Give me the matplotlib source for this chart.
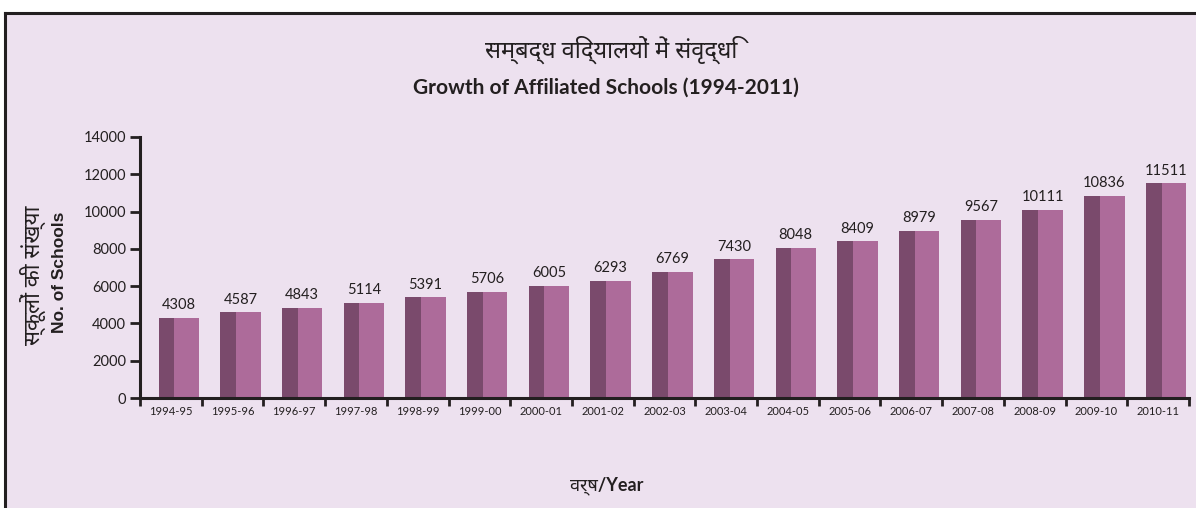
import matplotlib
matplotlib.use("Agg")
import numpy as np
import matplotlib.pyplot as plt
from matplotlib.patches import Rectangle
from matplotlib.lines import Line2D

# data
years = ["1994-95", "1995-96", "1996-97", "1997-98", "1998-99", "1999-00",
         "2000-01", "2001-02", "2002-03", "2003-04", "2004-05", "2005-06",
         "2006-07", "2007-08", "2008-09", "2009-10", "2010-11"]
schools = [4308, 4587, 4843, 5114, 5391, 5706, 6005, 6293, 6769, 7430,
           8048, 8409, 8979, 9567, 10111, 10836, 11511]
y_ticks = [0, 2000, 4000, 6000, 8000, 10000, 12000, 14000]

title_hi = "सम्बद्ध विद्यालयों में संवृद्धि"
title_en = "Growth of Affiliated Schools (1994-2011)"
ylabel_hi = "स्कूलों की संख्या"
ylabel_en = "No. of Schools"
xlabel = "वर्ष/Year"

bg = "#ede1ef"
dark = "#7a4a6c"
light = "#ad6b9a"
ink = "#231f20"
hindi = ["Noto Sans Devanagari", "Mukta", "DejaVu Sans"]
latin = ["Lato", "Noto Sans Devanagari", "DejaVu Sans"]

fig = plt.figure(figsize=(11.96, 5.08), dpi=100)
fig.patch.set_facecolor("white")

# lavender panel with dark frame on top and left
W, H = 1196, 508
fig.add_artist(Rectangle((5 / W, 0), 1, 1 - 13 / H, transform=fig.transFigure,
                         facecolor=bg, edgecolor="none", zorder=-10))
fig.add_artist(Line2D([5 / W, 1], [1 - 13 / H, 1 - 13 / H], transform=fig.transFigure,
                      color=ink, lw=2.2))
fig.add_artist(Line2D([5 / W, 5 / W], [0, 1 - 13 / H], transform=fig.transFigure,
                      color=ink, lw=2.2))

ax = fig.add_axes([140 / W, 1 - 398 / H, 1049 / W, 261 / H])
ax.set_facecolor("none")

x = np.arange(len(years))
ax.bar(x - 0.2, schools, width=0.255, align="edge", color=dark, zorder=2)
ax.bar(x + 0.055, schools, width=0.40, align="edge", color=light, zorder=2)

for xi, v in zip(x, schools):
    ax.annotate(str(v), (xi + 0.127, v), xytext=(0, 4), textcoords="offset points",
                ha="center", va="bottom", fontsize=10.5, color=ink, family=latin)

ax.set_xlim(-0.5, len(years) - 0.5)
ax.set_ylim(0, 14000)
ax.set_yticks(y_ticks)
ax.set_yticklabels([str(t) for t in y_ticks], family=latin, fontsize=10.5, color=ink)
ax.set_xticks(x)
ax.set_xticklabels(years, family=latin, fontsize=8, color=ink)
ax.set_xticks(np.arange(len(years) + 1) - 0.5, minor=True)
ax.tick_params(axis="x", which="major", length=0, pad=6)
ax.tick_params(axis="x", which="minor", length=6, width=2, color=ink, direction="out")
ax.tick_params(axis="y", length=7, width=2, color=ink, pad=3)

for s in ["top", "right"]:
    ax.spines[s].set_visible(False)
for s in ["left", "bottom"]:
    ax.spines[s].set_linewidth(2.2)
    ax.spines[s].set_color(ink)

fig.text(611 / W, 1 - 50 / H, title_hi, ha="center", va="center", fontsize=17,
         family=hindi, color=ink)
fig.text(606 / W, 1 - 88 / H, title_en, ha="center", va="center", fontsize=15,
         weight="bold", family=latin, color=ink)
fig.text(33 / W, 1 - 275 / H, ylabel_hi, ha="center", va="center", rotation=90,
         fontsize=16, family=hindi, color=ink)
fig.text(60 / W, 1 - 272 / H, ylabel_en, ha="center", va="center", rotation=90,
         fontsize=12.5, weight="bold", family=["Liberation Sans", "DejaVu Sans"], color=ink)
fig.text(607 / W, 1 - 486 / H, xlabel, ha="center", va="center", fontsize=13,
         weight="bold", family=latin, color=ink)

fig.savefig("out.png", dpi=100, facecolor=fig.get_facecolor())
